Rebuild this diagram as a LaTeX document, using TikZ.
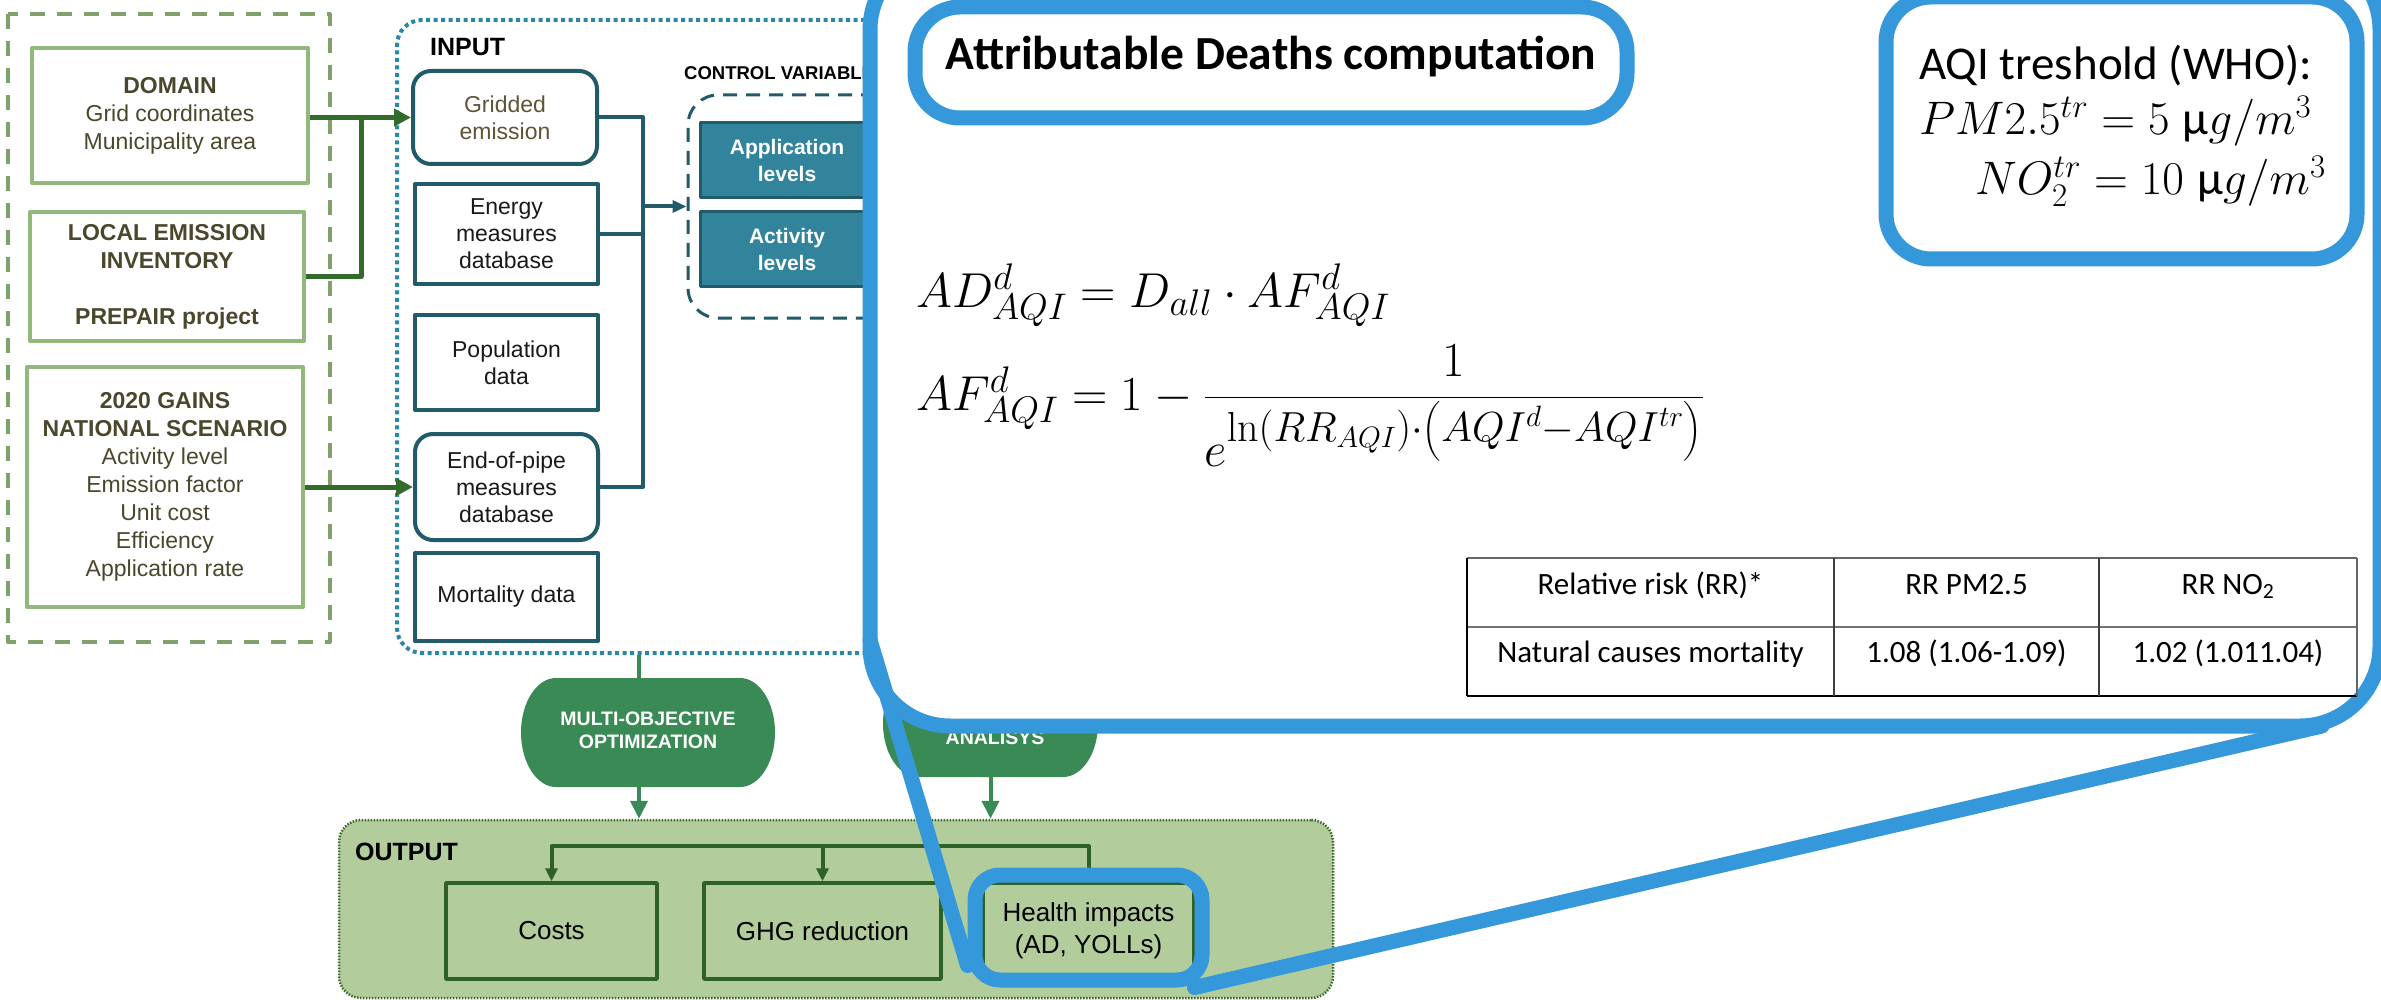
\RequirePackage{fix-cm}
\documentclass[tikz,border=0pt]{standalone}
\usepackage{amsmath}
\usepackage[no-math]{fontspec}
\setmainfont{Liberation Sans}
\newfontfamily\calib{Carlito}
\usetikzlibrary{arrows.meta,calc}
\DeclareMathSizes{49}{49}{37}{27}
\DeclareMathSizes{47}{47}{33}{24}

\definecolor{cSrcFrame}{HTML}{82A06B}
\definecolor{cSrcBox}{HTML}{93B87B}
\definecolor{cSrcText}{HTML}{4A472C}
\definecolor{cInFrame}{HTML}{2C87A5}
\definecolor{cInBox}{HTML}{215A69}
\definecolor{cGridTxt}{HTML}{5E5436}
\definecolor{cCtrl}{HTML}{31849B}
\definecolor{cFeed}{HTML}{336B2A}
\definecolor{cProc}{HTML}{3A8A55}
\definecolor{cOutFill}{HTML}{B2CD9B}
\definecolor{cOutFrame}{HTML}{3B6B2F}
\definecolor{cOutBox}{HTML}{2E6125}
\definecolor{cZoom}{HTML}{3498DB}

\tikzset{
  boxsize/.style 2 args={minimum width=#1pt, minimum height=#2pt},
  srcbox/.style={draw=cSrcBox, line width=4pt, text=cSrcText, align=center,
    font=\fontsize{23}{28}\selectfont, inner sep=0pt},
  inbox/.style={draw=cInBox, line width=4pt, text=black!90, align=center,
    font=\fontsize{23}{27}\selectfont, inner sep=0pt},
  inround/.style={inbox, rounded corners=18pt},
  ctrlbox/.style={draw=cInBox, line width=3pt, fill=cCtrl, text=white, align=center,
    font=\bfseries\fontsize{21}{27}\selectfont, inner sep=0pt},
  outbox/.style={draw=cOutBox, line width=3.5pt, align=center,
    font=\fontsize{26}{32}\selectfont, inner sep=0pt},
  feed/.style={draw=cFeed, line width=5pt},
  feedarrow/.style={feed, -{Triangle[length=17pt,width=17pt]}},
  busline/.style={draw=cInBox, line width=4pt},
  busarrow/.style={busline, -{Triangle[length=14pt,width=12pt]}},
  procline/.style={draw=cProc, line width=4pt},
  procarrow/.style={procline, -{Triangle[length=18pt,width=17pt]}},
  outline/.style={draw=cOutBox, line width=4pt},
  outarrow/.style={outline, -{Triangle[length=13pt,width=12pt]}},
  zoomline/.style={draw=cZoom, line width=15pt},
  frametitle/.style={font=\bfseries\fontsize{25}{30}\selectfont, anchor=west, inner sep=0pt},
  proctext/.style={text=white, font=\bfseries\fontsize{19.5}{23}\selectfont, align=center, inner sep=0pt},
  cell/.style={font=\calib\fontsize{31}{36}\selectfont, anchor=base, inner sep=0pt},
  eqtext/.style={anchor=base west, inner sep=0pt},
}

\begin{document}
\begin{tikzpicture}[x=1pt, y=-1pt, line join=round]
\useasboundingbox (0,0) rectangle (2381,1000);
\clip (0,0) rectangle (2381,1000);
\fill[white] (0,0) rectangle (2381,1000);

% ---------- data sources ----------
\draw[draw=cSrcFrame, line width=4pt, dash pattern=on 15pt off 12pt] (8,14) rectangle (330,642);
\node[srcbox, boxsize={276}{135}] (domain) at (170,115.5)
  {\textbf{DOMAIN}\\Grid coordinates\\Municipality area};
\node[srcbox, boxsize={274}{129}] (local) at (167,276.5)
  {\textbf{LOCAL EMISSION}\\\textbf{INVENTORY}\\[28pt]\textbf{PREPAIR project}};
\node[srcbox, boxsize={276}{240}] (gains) at (165,487)
  {\textbf{2020 GAINS}\\\textbf{NATIONAL SCENARIO}\\Activity level\\Emission factor\\Unit cost\\Efficiency\\Application rate};

% ---------- input block ----------
\node[draw=cInFrame, line width=4pt, dash pattern=on 4pt off 3.5pt, rounded corners=25pt,
  boxsize={853}{633}] (inframe) at (823.5,336.5) {};
\node[frametitle] (inlabel) at (430,47) {INPUT};

\node[inround, text=cGridTxt, boxsize={184}{93}] (grid) at (505,117.5) {Gridded\\emission};
\node[inbox, boxsize={183}{100}] (energy) at (506.5,234) {Energy\\measures\\database};
\node[inbox, boxsize={183}{95}] (pop) at (506.5,362.5) {Population\\data};
\node[inround, boxsize={183}{106}] (eop) at (506.5,487) {End-of-pipe\\measures\\database};
\node[inbox, boxsize={183}{88}] (mort) at (506.5,597) {Mortality data};

\node[draw=cInBox, line width=3pt, dash pattern=on 14pt off 9pt, rounded corners=30pt,
  boxsize={562}{223}] (ctrl) at (969,206.5) {};
\node[font=\bfseries\fontsize{18.5}{22}\selectfont, anchor=west, inner sep=0pt] (ctrllabel)
  at (684,73) {CONTROL VARIABLES};
\node[ctrlbox, boxsize={174}{75}] (applev) at (787,160.5) {Application\\levels};
\node[ctrlbox, boxsize={174}{74}] (actlev) at (787,249) {Activity\\levels};

% feeds from the sources
\coordinate (feedjoin) at (361,117.5);
\draw[feedarrow] (domain.east |- grid.west) -- (grid.west);
\draw[feed] (local.east) -| (feedjoin);
\draw[feedarrow] (gains.east |- eop.west) -- (eop.west);

% input bus towards the control variables
\coordinate (bus) at (643,206.5);
\draw[busline] (grid.east) -| (bus |- eop.east) -- (eop.east);
\draw[busline] (energy.east) -- (bus |- energy.east);
\draw[busarrow] (bus) -- (ctrl.west);

% ---------- output block ----------
\node[fill=cOutFill, draw=cOutFrame, line width=2.5pt, dash pattern=on 1.5pt off 1.5pt,
  rounded corners=22pt, boxsize={994}{178}] (outframe) at (836,909) {};
\node[frametitle] (outlabel) at (355,852) {OUTPUT};
\node[outbox, boxsize={211}{96}] (costs) at (551.5,931) {Costs};
\node[outbox, boxsize={237}{96}] (ghg) at (822.5,931) {GHG reduction};
\node[outbox, boxsize={211}{96}] (health) at (1088.5,931) {Health impacts\\(AD, YOLLs)};

\draw[outarrow] (health.north) -- ++(0,-35) -| (costs.north);
\draw[outarrow] ($(ghg.north)+(0,-35)$) -- (ghg.north);
\draw[outarrow] ($(health.north)+(0,-2)$) -- (health.north);

% ---------- processing steps ----------
\fill[cProc] (556,678) -- (740,678)
  arc[start angle=90, end angle=-90, x radius=35pt, y radius=54.5pt] -- (556,787)
  arc[start angle=-90, end angle=-270, x radius=35pt, y radius=54.5pt] -- cycle;
\node[proctext, boxsize={254}{109}] (moo) at (648,730.5) {MULTI-OBJECTIVE\\OPTIMIZATION};

\fill[cProc] (918,670) -- (1063,670)
  arc[start angle=90, end angle=-90, x radius=35pt, y radius=53.5pt] -- (918,777)
  arc[start angle=-90, end angle=-270, x radius=35pt, y radius=53.5pt] -- cycle;
\node[boxsize={215}{107}, inner sep=0pt] (sens) at (990.5,723.5) {};
\node[proctext] (senstext) at (995,738) {ANALISYS};

\draw[procline] ([xshift=-9pt]moo.north |- inframe.south) -- ([xshift=-9pt]moo.north |- 0,678);
\draw[procarrow] ([xshift=-9pt]moo.south |- 0,787) -- ([xshift=-9pt]moo.south |- outframe.north);
\draw[procarrow] (sens.south) -- (sens.south |- outframe.north);

% ---------- magnified health-impact panel ----------
\node[zoomline, fill=white, rounded corners=80pt, boxsize={1510}{776}] (zoomframe) at (1625,338) {};
\node[zoomline, rounded corners=25pt, boxsize={227}{105}] (hl) at (1088.5,927.5) {};
\coordinate (zl) at (870,640);
\coordinate (zr) at (2322,726);
\draw[zoomline, line cap=round] (zl) -- ($(hl.south west)+(0,-22)$);
\draw[zoomline, line cap=round] ($(hl.south east)+(-15,0)$) -- (zr);

\node[zoomline, fill=white, rounded corners=45pt, boxsize={712}{111}] (title) at (1271,62.5) {};
\node[font=\calib\bfseries\fontsize{47.5}{56}\selectfont, anchor=base, inner sep=0pt]
  (titletext) at (1271,70) {Attributable Deaths computation};

\node[zoomline, fill=white, rounded corners=45pt, boxsize={471}{262}] (aqi) at (2121.5,128) {};
\node[eqtext, font=\calib\fontsize{47}{56}\selectfont] (aqititle) at (1919,80) {AQI treshold (WHO):};
\node[eqtext, font=\fontsize{47}{56}\selectfont] (pmline) at (1919,135)
  {$PM2.5^{tr} = 5\ \mbox{\calib μ}g/m^3$};
\node[eqtext, font=\fontsize{47}{56}\selectfont] (noline) at (1975,195)
  {$NO_2^{tr} = 10\ \mbox{\calib μ}g/m^3$};

\node[eqtext, font=\fontsize{49}{58}\selectfont] (eqad) at (916,307)
  {$AD^d_{AQI} = D_{all}\cdot AF^d_{AQI}$};
\node[eqtext, font=\fontsize{49}{58}\selectfont] (eqaf) at (916,410)
  {$AF^d_{AQI} = 1 - \dfrac{1}{e^{\mbox{\fontsize{42}{48}\selectfont$\ln\!\left(RR_{AQI}\right)\!{\cdot}\!\left(AQI^d{-}AQI^{tr}\right)$}}}$};

% relative risk table
\draw[black!60, line width=2pt] (1467,558) -- (2357,558);
\draw[black!55, line width=2pt] (1467,627) -- (2357,627);
\draw[black, line width=2.5pt] (1467,696) -- (2357,696);
\draw[black, line width=1.5pt] (1467,558) -- (1467,696);
\draw[black!75, line width=1.3pt] (1834,558) -- (1834,696);
\draw[black!75, line width=1.3pt] (2099,558) -- (2099,696);
\draw[black!60, line width=1.5pt] (2357,558) -- (2357,696);
\node[cell] (rrhead) at (1650.5,594) {Relative risk (RR)*};
\node[cell] (pmhead) at (1966.5,594) {RR PM2.5};
\node[cell] (nohead) at (2228,594) {RR NO\textsubscript{2}};
\node[cell] (rrrow) at (1650.5,662) {Natural causes mortality};
\node[cell] (pmval) at (1966.5,662) {1.08 (1.06-1.09)};
\node[cell] (noval) at (2228,662) {1.02 (1.011.04)};
\end{tikzpicture}
\end{document}
